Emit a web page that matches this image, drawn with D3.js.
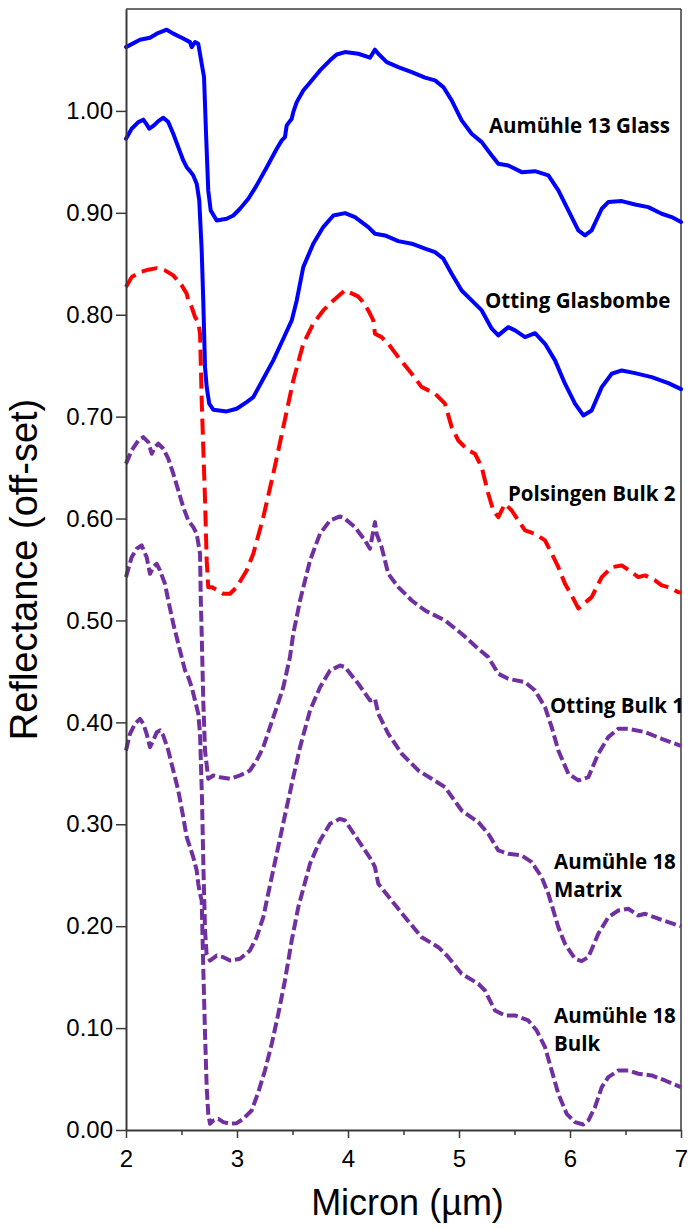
<!DOCTYPE html>
<html>
<head>
<meta charset="utf-8">
<script src="https://cdn.jsdelivr.net/npm/d3@7"></script>
<style>
  html, body { margin: 0; padding: 0; background: #ffffff; }
  svg { display: block; }
</style>
</head>
<body>
<div id="chart"></div>
<script>
// ---------------- DATA ----------------
const xTicks = [2, 3, 4, 5, 6, 7];
const xMinorTicks = [2.5, 3.5, 4.5, 5.5, 6.5];
const yTicks = [0.00, 0.10, 0.20, 0.30, 0.40, 0.50, 0.60, 0.70, 0.80, 0.90, 1.00];

const aumuehle13Glass = [
  [2.000,1.0626],[2.126,1.0699],[2.216,1.0718],[2.277,1.0758],[2.367,1.0797],[2.426,1.0758],
  [2.502,1.0718],[2.577,1.0675],[2.592,1.0626],[2.622,1.0675],[2.651,1.0659],[2.682,1.0463],
  [2.703,1.0332],[2.721,0.9779],[2.741,0.9220],[2.763,0.9024],[2.817,0.8925],[2.907,0.8942],
  [2.967,0.8974],[3.027,0.9040],[3.102,0.9138],[3.177,0.9269],[3.268,0.9448],[3.358,0.9629],
  [3.403,0.9711],[3.432,0.9743],[3.448,0.9858],[3.493,0.9923],[3.507,0.9988],[3.538,1.0086],
  [3.597,1.0201],[3.673,1.0299],[3.748,1.0397],[3.838,1.0496],[3.898,1.0554],[3.973,1.0577],
  [4.093,1.0561],[4.198,1.0522],[4.243,1.0601],[4.273,1.0561],[4.349,1.0479],[4.453,1.0430],
  [4.574,1.0381],[4.694,1.0326],[4.784,1.0299],[4.859,1.0234],[4.934,1.0103],[5.024,0.9907],
  [5.114,0.9776],[5.205,0.9694],[5.295,0.9563],[5.354,0.9482],[5.444,0.9465],[5.565,0.9399],
  [5.685,0.9409],[5.805,0.9367],[5.895,0.9220],[5.985,0.9024],[6.075,0.8827],[6.135,0.8778],
  [6.195,0.8827],[6.286,0.9040],[6.345,0.9105],[6.466,0.9115],[6.586,0.9082],[6.705,0.9056],
  [6.826,0.8991],[6.916,0.8958],[7.000,0.8909]
];

const ottingGlasbombe = [
  [2.000,0.9727],[2.051,0.9825],[2.111,0.9890],[2.156,0.9914],[2.186,0.9868],[2.210,0.9825],
  [2.252,0.9858],[2.291,0.9900],[2.336,0.9933],[2.381,0.9890],[2.426,0.9776],[2.471,0.9645],
  [2.516,0.9514],[2.547,0.9448],[2.577,0.9409],[2.606,0.9367],[2.637,0.9286],[2.660,0.9122],
  [2.682,0.8631],[2.696,0.8140],[2.712,0.7486],[2.727,0.7290],[2.750,0.7127],[2.786,0.7068],
  [2.907,0.7051],[2.997,0.7077],[3.087,0.7142],[3.147,0.7191],[3.237,0.7372],[3.327,0.7552],
  [3.417,0.7764],[3.493,0.7944],[3.538,0.8140],[3.597,0.8467],[3.687,0.8697],[3.777,0.8860],
  [3.868,0.8974],[3.973,0.8997],[4.063,0.8958],[4.183,0.8860],[4.243,0.8795],[4.333,0.8778],
  [4.453,0.8722],[4.574,0.8697],[4.694,0.8648],[4.784,0.8614],[4.859,0.8550],[4.934,0.8402],
  [5.024,0.8238],[5.114,0.8140],[5.205,0.8042],[5.295,0.7863],[5.354,0.7797],[5.444,0.7878],
  [5.505,0.7846],[5.595,0.7780],[5.685,0.7819],[5.775,0.7715],[5.865,0.7552],[5.955,0.7323],
  [6.045,0.7127],[6.120,0.7012],[6.195,0.7061],[6.286,0.7290],[6.376,0.7421],[6.466,0.7453],
  [6.586,0.7427],[6.736,0.7388],[6.886,0.7329],[7.000,0.7270]
];

const polsingenBulk2 = [
  [2.000,0.8271],[2.051,0.8369],[2.126,0.8418],[2.201,0.8442],[2.277,0.8457],[2.351,0.8435],
  [2.426,0.8386],[2.502,0.8288],[2.547,0.8206],[2.561,0.8140],[2.592,0.8075],[2.622,0.7976],
  [2.651,0.7927],[2.667,0.7814],[2.682,0.7159],[2.712,0.6178],[2.727,0.5589],[2.741,0.5327],
  [2.772,0.5327],[2.817,0.5301],[2.877,0.5262],[2.937,0.5262],[2.997,0.5327],[3.087,0.5491],
  [3.147,0.5655],[3.237,0.6014],[3.327,0.6440],[3.417,0.6897],[3.507,0.7355],[3.597,0.7715],
  [3.687,0.7912],[3.777,0.8042],[3.868,0.8140],[3.973,0.8239],[4.090,0.8180],[4.123,0.8140],
  [4.183,0.8042],[4.228,0.7944],[4.243,0.7814],[4.303,0.7780],[4.363,0.7715],[4.453,0.7584],
  [4.574,0.7421],[4.664,0.7290],[4.784,0.7225],[4.874,0.7127],[4.934,0.6897],[4.994,0.6766],
  [5.084,0.6668],[5.144,0.6636],[5.205,0.6504],[5.234,0.6374],[5.264,0.6243],[5.309,0.6079],
  [5.354,0.6014],[5.414,0.6145],[5.475,0.6079],[5.534,0.5981],[5.595,0.5883],[5.685,0.5851],
  [5.775,0.5785],[5.835,0.5655],[5.895,0.5523],[5.955,0.5360],[6.015,0.5245],[6.075,0.5118],
  [6.195,0.5229],[6.286,0.5425],[6.376,0.5523],[6.466,0.5540],[6.556,0.5474],[6.615,0.5425],
  [6.676,0.5442],[6.766,0.5393],[6.826,0.5344],[6.886,0.5327],[6.976,0.5278],[7.000,0.5275]
];

const ottingBulk1 = [
  [2.000,0.6538],[2.051,0.6668],[2.111,0.6766],[2.156,0.6799],[2.201,0.6750],[2.232,0.6636],
  [2.261,0.6701],[2.291,0.6734],[2.336,0.6685],[2.381,0.6587],[2.426,0.6440],[2.471,0.6276],
  [2.516,0.6112],[2.561,0.5981],[2.606,0.5916],[2.637,0.5851],[2.667,0.5655],[2.674,0.5196],
  [2.682,0.4870],[2.696,0.4215],[2.712,0.3724],[2.741,0.3447],[2.786,0.3479],[2.847,0.3462],
  [2.937,0.3447],[3.027,0.3479],[3.117,0.3528],[3.177,0.3626],[3.237,0.3757],[3.297,0.3953],
  [3.358,0.4149],[3.417,0.4345],[3.477,0.4640],[3.507,0.4870],[3.538,0.5032],[3.568,0.5196],
  [3.658,0.5589],[3.748,0.5851],[3.838,0.5981],[3.928,0.6021],[3.973,0.5998],[4.063,0.5916],
  [4.153,0.5785],[4.198,0.5704],[4.243,0.5965],[4.258,0.5851],[4.303,0.5719],[4.363,0.5458],
  [4.453,0.5327],[4.574,0.5196],[4.694,0.5098],[4.874,0.5000],[5.024,0.4870],[5.174,0.4722],
  [5.264,0.4640],[5.354,0.4477],[5.444,0.4428],[5.595,0.4394],[5.685,0.4313],[5.775,0.4149],
  [5.835,0.3953],[5.895,0.3724],[5.985,0.3496],[6.075,0.3430],[6.165,0.3462],[6.255,0.3692],
  [6.345,0.3855],[6.435,0.3937],[6.525,0.3937],[6.676,0.3904],[6.826,0.3839],[7.000,0.3770]
];

const aumuehle18Matrix = [
  [2.000,0.5425],[2.051,0.5621],[2.096,0.5704],[2.141,0.5736],[2.186,0.5621],[2.216,0.5458],
  [2.246,0.5523],[2.277,0.5556],[2.306,0.5491],[2.351,0.5360],[2.381,0.5196],[2.426,0.4968],
  [2.486,0.4706],[2.532,0.4509],[2.561,0.4444],[2.592,0.4345],[2.622,0.4215],[2.651,0.4084],
  [2.667,0.3888],[2.685,0.3234],[2.698,0.2547],[2.712,0.1958],[2.726,0.1729],[2.757,0.1663],
  [2.817,0.1712],[2.877,0.1696],[2.937,0.1663],[3.027,0.1680],[3.117,0.1762],[3.177,0.1892],
  [3.237,0.2088],[3.268,0.2252],[3.358,0.2711],[3.448,0.3168],[3.507,0.3462],[3.568,0.3757],
  [3.658,0.4117],[3.748,0.4345],[3.838,0.4509],[3.928,0.4558],[3.973,0.4542],[4.093,0.4379],
  [4.198,0.4215],[4.243,0.4232],[4.273,0.4084],[4.363,0.3888],[4.484,0.3692],[4.633,0.3528],
  [4.754,0.3447],[4.874,0.3364],[5.024,0.3135],[5.174,0.3021],[5.264,0.2907],[5.354,0.2743],
  [5.444,0.2711],[5.565,0.2694],[5.655,0.2628],[5.745,0.2481],[5.805,0.2318],[5.895,0.1990],
  [5.955,0.1827],[6.045,0.1680],[6.105,0.1657],[6.165,0.1696],[6.255,0.1925],[6.345,0.2088],
  [6.435,0.2154],[6.525,0.2171],[6.615,0.2105],[6.676,0.2122],[6.796,0.2073],[6.886,0.2039],
  [7.000,0.2000]
];

const aumuehle18Bulk = [
  [2.000,0.3724],[2.036,0.3888],[2.081,0.3986],[2.126,0.4035],[2.156,0.3986],[2.186,0.3888],
  [2.216,0.3757],[2.246,0.3822],[2.277,0.3904],[2.306,0.3921],[2.336,0.3871],[2.381,0.3724],
  [2.426,0.3528],[2.471,0.3332],[2.516,0.3070],[2.547,0.2873],[2.577,0.2775],[2.606,0.2677],
  [2.637,0.2547],[2.651,0.2416],[2.667,0.2318],[2.682,0.2252],[2.696,0.1598],[2.712,0.0944],
  [2.727,0.0420],[2.741,0.0159],[2.757,0.0061],[2.786,0.0093],[2.832,0.0110],[2.877,0.0077],
  [2.937,0.0061],[2.997,0.0067],[3.057,0.0110],[3.132,0.0191],[3.192,0.0371],[3.252,0.0584],
  [3.313,0.0846],[3.372,0.1140],[3.432,0.1467],[3.493,0.1860],[3.552,0.2186],[3.658,0.2612],
  [3.748,0.2841],[3.838,0.3005],[3.928,0.3054],[3.973,0.3037],[4.093,0.2841],[4.214,0.2645],
  [4.243,0.2579],[4.273,0.2416],[4.393,0.2252],[4.514,0.2088],[4.664,0.1892],[4.814,0.1794],
  [4.904,0.1696],[5.024,0.1533],[5.174,0.1435],[5.234,0.1369],[5.324,0.1173],[5.414,0.1124],
  [5.505,0.1124],[5.624,0.1075],[5.700,0.0976],[5.775,0.0813],[5.835,0.0584],[5.895,0.0355],
  [5.970,0.0159],[6.045,0.0077],[6.120,0.0054],[6.165,0.0093],[6.225,0.0224],[6.286,0.0420],
  [6.345,0.0518],[6.435,0.0584],[6.525,0.0584],[6.615,0.0552],[6.736,0.0535],[6.856,0.0486],
  [7.000,0.0420]
];

const seriesNames = ["Aumühle 18 Bulk", "Aumühle 18 Matrix", "Otting Bulk 1", "Polsingen Bulk 2", "Otting Glasbombe", "Aumühle 13 Glass"];
const seriesData = [aumuehle18Bulk, aumuehle18Matrix, ottingBulk1, polsingenBulk2, ottingGlasbombe, aumuehle13Glass];
const seriesColors = ["#7030a0", "#7030a0", "#7030a0", "#ff0000", "#0000ff", "#0000ff"];
const seriesDash = ["11,4", "11,4", "11,4", "16,7", null, null];

// label text lines with anchor in data coordinates (x micron, y reflectance)
const labelLines = [
  { lines: ["Aumühle 13 Glass"], x: 5.270, y: 0.978 },
  { lines: ["Otting Glasbombe"], x: 5.234, y: 0.807 },
  { lines: ["Polsingen Bulk 2"], x: 5.441, y: 0.617 },
  { lines: ["Otting Bulk 1"], x: 5.820, y: 0.409 },
  { lines: ["Aumühle 18", "Matrix"], x: 5.856, y: 0.256 },
  { lines: ["Aumühle 18", "Bulk"], x: 5.856, y: 0.105 }
];

// ---------------- LAYOUT ----------------
const W = 691, H = 1229;
const margin = { top: 9, right: 10, bottom: 99, left: 126 };
const iw = W - margin.left - margin.right;
const ih = H - margin.top - margin.bottom;

const svg = d3.select("#chart").append("svg")
  .attr("width", W).attr("height", H)
  .attr("viewBox", `0 0 ${W} ${H}`);

const g = svg.append("g").attr("transform", `translate(${margin.left},${margin.top})`);

const x = d3.scaleLinear().domain([2, 7]).range([0, iw]);
const y = d3.scaleLinear().domain([0, 1.10]).range([ih, 0]);

const axisColor = "#3a3a3a";
const tickFont = "'Liberation Sans', Arial, sans-serif";

// frame (top and right)
g.append("line").attr("x1", 0).attr("x2", iw).attr("y1", 0).attr("y2", 0)
  .attr("stroke", axisColor).attr("stroke-width", 1.5);
g.append("line").attr("x1", iw).attr("x2", iw).attr("y1", 0).attr("y2", ih)
  .attr("stroke", axisColor).attr("stroke-width", 1.5);

// curves
const line = d3.line().x(d => x(d[0])).y(d => y(d[1]));
const curves = g.append("g").attr("class", "curves");
seriesData.forEach((data, i) => {
  const p = curves.append("path")
    .datum(data)
    .attr("d", line)
    .attr("fill", "none")
    .attr("stroke", seriesColors[i])
    .attr("stroke-width", 4)
    .attr("stroke-linejoin", "round")
    .attr("data-name", seriesNames[i]);
  if (seriesDash[i]) p.attr("stroke-dasharray", seriesDash[i]);
  else p.attr("stroke-linecap", "round");
});

// y axis
const yAxis = d3.axisLeft(y).tickValues(yTicks).tickFormat(d3.format(".2f"))
  .tickSizeInner(10).tickSizeOuter(0).tickPadding(3);
const gy = g.append("g").call(yAxis);
gy.select(".domain").attr("stroke", axisColor).attr("stroke-width", 2);
gy.selectAll(".tick line").attr("stroke", axisColor).attr("stroke-width", 1.5);
gy.selectAll(".tick text").attr("font-family", tickFont).attr("font-size", 24).attr("fill", "#000");

// x axis (major)
const xAxis = d3.axisBottom(x).tickValues(xTicks).tickFormat(d3.format("d"))
  .tickSizeInner(8).tickSizeOuter(0).tickPadding(12);
const gx = g.append("g").attr("transform", `translate(0,${ih})`).call(xAxis);
gx.select(".domain").attr("stroke", axisColor).attr("stroke-width", 2);
gx.selectAll(".tick line").attr("stroke", axisColor).attr("stroke-width", 1.5);
gx.selectAll(".tick text").attr("font-family", tickFont).attr("font-size", 24).attr("fill", "#000");

// x axis (minor)
const xMinor = d3.axisBottom(x).tickValues(xMinorTicks).tickFormat("")
  .tickSizeInner(5).tickSizeOuter(0);
const gxm = g.append("g").attr("transform", `translate(0,${ih})`).call(xMinor);
gxm.select(".domain").remove();
gxm.selectAll(".tick line").attr("stroke", axisColor).attr("stroke-width", 1.5);

// axis titles
svg.append("text")
  .attr("transform", `translate(37,${margin.top + ih / 2}) rotate(-90)`)
  .attr("text-anchor", "middle")
  .attr("font-family", tickFont).attr("font-size", 38).attr("fill", "#000")
  .text("Reflectance (off-set)");

svg.append("text")
  .attr("x", margin.left + iw / 2 + 4).attr("y", 1215)
  .attr("text-anchor", "middle")
  .attr("font-family", tickFont).attr("font-size", 36).attr("fill", "#000")
  .text("Micron (µm)");

// series labels
const labelFont = "'Open Sans', 'Noto Sans', sans-serif";
labelLines.forEach(l => {
  const t = g.append("text")
    .attr("x", x(l.x)).attr("y", y(l.y))
    .attr("font-family", labelFont).attr("font-weight", 700)
    .attr("font-size", 20.5).attr("fill", "#000");
  l.lines.forEach((s, i) => {
    t.append("tspan").attr("x", x(l.x)).attr("dy", i === 0 ? 0 : 28).text(s);
  });
});
</script>
</body>
</html>
